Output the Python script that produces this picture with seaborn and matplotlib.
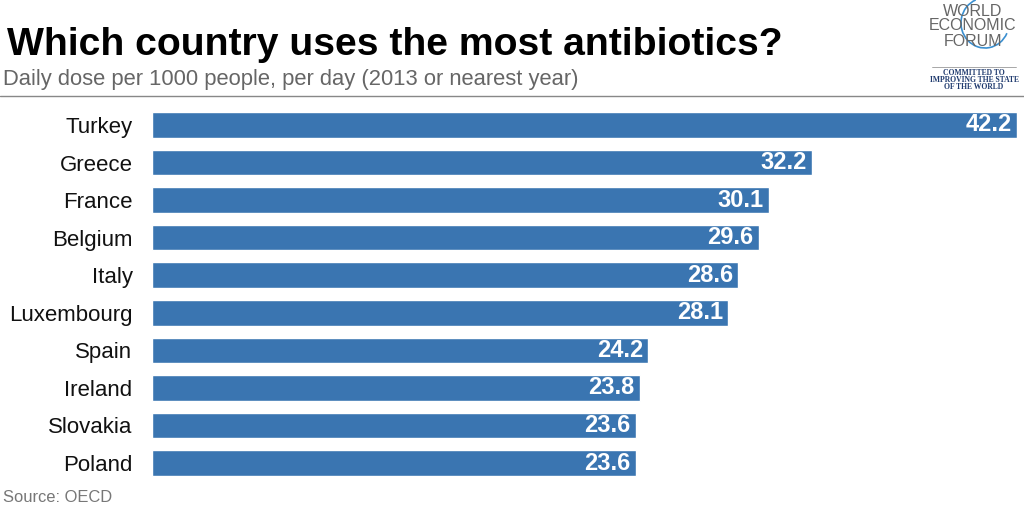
import numpy as np
import pandas as pd
import seaborn as sns
from matplotlib import pyplot as plt
from matplotlib.patches import Arc

countries = ["Turkey", "Greece", "France", "Belgium", "Italy", "Luxembourg",
             "Spain", "Ireland", "Slovakia", "Poland"]
doses = [42.2, 32.2, 30.1, 29.6, 28.6, 28.1, 24.2, 23.8, 23.6, 23.6]

df = pd.DataFrame({"country": countries, "dose": doses})

sns.set_style("white")
plt.rcParams['font.family'] = ['Liberation Sans', 'DejaVu Sans']

fig = plt.figure(figsize=(10.24, 5.12), dpi=100)
ax = fig.add_axes([152 / 1024, 0.059, 865 / 1024, 0.7336])

sns.barplot(data=df, x="dose", y="country", color="#3a75b1", saturation=1,
            width=0.68, ax=ax)
ax.set_xlim(0, 42.2)
ax.set_ylim(9.5, -0.5)
ax.set_xlabel("")
ax.set_ylabel("")
ax.set_xticks([])
sns.despine(ax=ax, left=True, bottom=True)
ax.tick_params(axis="y", length=0, pad=14, labelsize=16)
for lbl in ax.get_yticklabels():
    lbl.set_color("#111111")

# value labels inside bar ends
for i, v in enumerate(doses):
    ax.text(v - 0.25, i, f"{v:.1f}", ha="right", va="center", color="white",
            fontsize=17, fontweight="bold")

# title block
fig.text(7 / 1024, 1 - 45 / 512, "Which country uses the most antibiotics?",
         fontsize=28.2, fontweight="bold", ha="left", va="center", color="black")
fig.text(3 / 1024, 1 - 80 / 512, "Daily dose per 1000 people, per day (2013 or nearest year)",
         fontsize=15.8, ha="left", va="center", color="#666666")
fig.add_artist(plt.Line2D([0, 1], [1 - 96 / 512, 1 - 96 / 512], color="#888888", lw=1))
fig.text(3 / 1024, 1 - 498 / 512, "Source: OECD", fontsize=11.9, ha="left",
         va="center", color="#777777")

# logo (approximate), drawn in pixel coordinates
logo = fig.add_axes([0, 0, 1, 1], zorder=5)
logo.set_xlim(0, 1024)
logo.set_ylim(512, 0)
logo.axis("off")
for txt, yy in [("WORLD", 11), ("ECONOMIC", 26), ("FORUM", 41)]:
    logo.text(973, yy, txt, fontsize=11.5, ha="center", va="center", color="#666666")
logo.add_patch(Arc((985, 23), 48, 50, theta1=25, theta2=248, color="#3a8fd0", lw=1.2))
logo.plot([932, 1016], [67, 67], color="#999999", lw=0.6)
for txt, yy in [("COMMITTED TO", 73), ("IMPROVING THE STATE", 80), ("OF THE WORLD", 87)]:
    logo.text(974, yy, txt, fontsize=5.5, ha="center", va="center", fontweight="bold",
              color="#1f3a6e", family=["Liberation Serif", "DejaVu Serif"])

fig.savefig("out.png", dpi=100)
plt.close(fig)
